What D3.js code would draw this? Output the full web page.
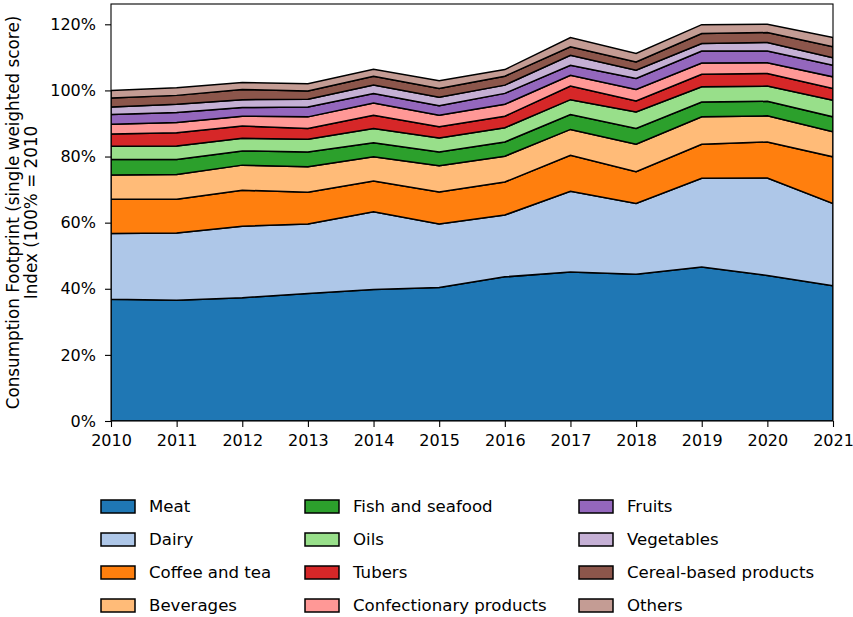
<!DOCTYPE html>
<html>
<head>
<meta charset="utf-8">
<script src="https://cdn.jsdelivr.net/npm/d3@7"></script>
<style>
  html, body { margin: 0; padding: 0; background: #fff; }
  svg { display: block; font-family: "DejaVu Sans", sans-serif; }
</style>
</head>
<body>
<svg id="chart" width="853" height="617"></svg>
<script>
const years = [2010, 2011, 2012, 2013, 2014, 2015, 2016, 2017, 2018, 2019, 2020, 2021];
const categories = ["Meat", "Dairy", "Coffee and tea", "Beverages", "Fish and seafood", "Oils",
  "Tubers", "Confectionary products", "Fruits", "Vegetables", "Cereal-based products", "Others"];
const colors = ["#1f77b4", "#aec7e8", "#ff7f0e", "#ffbb78", "#2ca02c", "#98df8a",
  "#d62728", "#ff9896", "#9467bd", "#c5b0d5", "#8c564b", "#c49c94"];

const meat          = [36.8, 36.5, 37.3, 38.6, 39.8, 40.4, 43.6, 45.1, 44.4, 46.6, 44.0, 40.9];
const dairy         = [19.9, 20.4, 21.6, 21.0, 23.5, 19.2, 18.7, 24.4, 21.4, 26.8, 29.5, 24.9];
const coffeeTea     = [10.4, 10.2, 10.9,  9.6,  9.3,  9.7, 10.0, 10.9,  9.6, 10.3, 10.9, 14.1];
const beverages     = [ 7.3,  7.5,  7.6,  7.7,  7.3,  7.9,  7.8,  7.8,  8.3,  8.3,  7.9,  7.6];
const fish          = [ 4.7,  4.5,  4.3,  4.5,  4.3,  4.2,  4.3,  4.5,  4.8,  4.5,  4.4,  4.5];
const oils          = [ 4.0,  4.1,  3.8,  3.8,  4.3,  4.2,  4.3,  4.5,  5.0,  4.6,  4.6,  5.0];
const tubers        = [ 3.7,  4.0,  3.7,  3.3,  4.0,  3.4,  3.5,  4.1,  3.3,  3.8,  3.8,  3.6];
const confectionary = [ 3.0,  3.1,  3.0,  3.5,  3.7,  3.5,  3.6,  3.3,  3.5,  3.4,  3.3,  3.5];
const fruits        = [ 2.9,  3.0,  2.6,  3.0,  2.9,  2.9,  3.3,  3.0,  3.3,  3.6,  3.5,  3.5];
const vegetables    = [ 2.3,  2.5,  2.4,  2.3,  2.5,  2.5,  2.5,  3.0,  2.5,  2.3,  2.6,  2.3];
const cereal        = [ 2.7,  2.7,  3.1,  2.5,  2.7,  2.7,  2.7,  2.6,  2.5,  3.0,  3.0,  3.3];
const others        = [ 2.3,  2.3,  2.1,  2.2,  2.1,  2.3,  2.0,  2.8,  2.6,  2.7,  2.5,  2.8];

const seriesValues = [meat, dairy, coffeeTea, beverages, fish, oils, tubers, confectionary,
  fruits, vegetables, cereal, others];
const yTicks = [0, 20, 40, 60, 80, 100, 120];

const table = years.map((yr, i) => {
  const row = { year: yr };
  categories.forEach((c, k) => { row[c] = seriesValues[k][i]; });
  return row;
});

const svg = d3.select("#chart");
const pLeft = 111, pRight = 833, pTop = 4, pBottom = 421;

const x = d3.scaleLinear().domain([2010, 2021]).range([pLeft, pRight]);
const y = d3.scaleLinear().domain([0, 120]).range([pBottom, 24.3]);

const stacked = d3.stack().keys(categories)(table);

const area = d3.area()
  .x(d => x(d.data.year))
  .y0(d => y(d[0]))
  .y1(d => y(d[1]));

svg.append("defs").append("clipPath").attr("id", "clip")
  .append("rect").attr("x", pLeft).attr("y", pTop).attr("width", pRight - pLeft).attr("height", pBottom - pTop);

const g = svg.append("g").attr("clip-path", "url(#clip)");
g.selectAll("path.layer").data(stacked).join("path")
  .attr("class", "layer")
  .attr("d", area)
  .attr("fill", (d, i) => colors[i])
  .attr("stroke", "#000")
  .attr("stroke-width", 1.5)
  .attr("stroke-linejoin", "miter");

// axes
const xAxis = d3.axisBottom(x).tickValues(years).tickFormat(d3.format("d")).tickSize(6).tickPadding(8);
const yAxis = d3.axisLeft(y).tickValues(yTicks).tickFormat(d => d + "%").tickSize(6).tickPadding(9);

const gx = svg.append("g").attr("transform", `translate(0,${pBottom})`).call(xAxis);
const gy = svg.append("g").attr("transform", `translate(${pLeft},0)`).call(yAxis);
[gx, gy].forEach(a => {
  a.select(".domain").remove();
  a.selectAll(".tick line").attr("stroke", "#000").attr("stroke-width", 1.1);
  a.selectAll(".tick text").attr("fill", "#000").style("font-size", "16px")
    .style("font-family", "'DejaVu Sans', sans-serif");
});

// frame
svg.append("rect").attr("x", pLeft).attr("y", pTop).attr("width", pRight - pLeft).attr("height", pBottom - pTop)
  .attr("fill", "none").attr("stroke", "#000").attr("stroke-width", 1.1);

// y label
const yl = svg.append("text")
  .attr("transform", `translate(19,${(pTop + pBottom) / 2}) rotate(-90)`)
  .attr("text-anchor", "middle")
  .style("font-size", "16.8px").attr("fill", "#000");
yl.append("tspan").attr("x", 0).attr("dy", 0).text("Consumption Footprint (single weighted score)");
yl.append("tspan").attr("x", 0).attr("dy", 18).text("Index (100% = 2010");

// legend
const colX = [101, 305, 579];
const rowY = [506.5, 539.5, 572.5, 605.5];
const leg = svg.append("g");
categories.forEach((c, k) => {
  const col = Math.floor(k / 4), row = k % 4;
  const gi = leg.append("g").attr("transform", `translate(${colX[col]},${rowY[row]})`);
  gi.append("rect").attr("x", 0).attr("y", -6.5).attr("width", 34).attr("height", 13)
    .attr("fill", colors[k]).attr("stroke", "#000").attr("stroke-width", 1.5);
  gi.append("text").attr("x", 48).attr("y", 0).attr("dy", "0.36em")
    .style("font-size", "16.6px").attr("fill", "#000").text(c);
});
</script>
</body>
</html>
